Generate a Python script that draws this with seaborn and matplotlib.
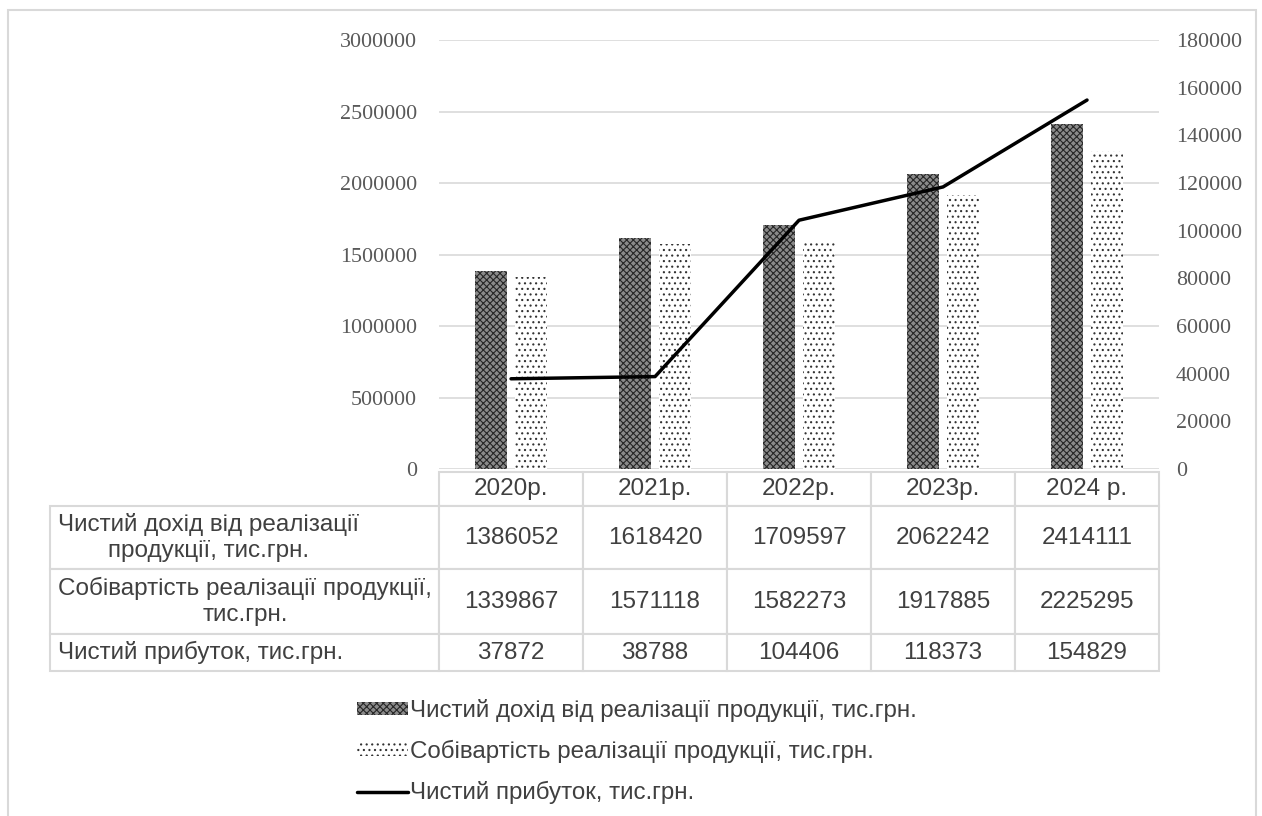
import numpy as np
import pandas as pd
import matplotlib
matplotlib.use('Agg')
import matplotlib.pyplot as plt
import seaborn as sns
from matplotlib.patches import Rectangle

years = ['2020р.', '2021р.', '2022р.', '2023р.', '2024 р.']
income = [1386052, 1618420, 1709597, 2062242, 2414111]
cost = [1339867, 1571118, 1582273, 1917885, 2225295]
profit = [37872, 38788, 104406, 118373, 154829]
s_income = 'Чистий дохід від реалізації продукції, тис.грн.'
s_cost = 'Собівартість реалізації продукції, тис.грн.'
s_profit = 'Чистий прибуток, тис.грн.'
row_labels = ['Чистий дохід від реалізації\nпродукції, тис.грн.',
              'Собівартість реалізації продукції,\nтис.грн.',
              'Чистий прибуток, тис.грн.']
left_ticks = np.arange(0, 3000001, 500000)
right_ticks = np.arange(0, 180001, 20000)

sns.set_theme(style='white')
plt.rcParams['font.family'] = ['Liberation Sans', 'DejaVu Sans']
plt.rcParams['hatch.linewidth'] = 0.8

fig = plt.figure(figsize=(12.62, 8.16), dpi=100)
ax = fig.add_axes([0.3479, 0.4252, 0.5705, 0.5257])

df = pd.DataFrame({'year': years * 2,
                   'value': income + cost,
                   'series': [s_income] * len(years) + [s_cost] * len(years)})
sns.barplot(data=df, x='year', y='value', hue='series', ax=ax,
            width=0.556, gap=0.2, palette=['#8a8a8a', 'white'],
            saturation=1, legend=False, linewidth=0)

for p in ax.containers[0]:
    p.set_hatch('xxxxx')
    p.set_edgecolor('#262626')
    p.set_linewidth(0)
for p in ax.containers[1]:
    p.set_hatch('...')
    p.set_edgecolor('#333333')
    p.set_linewidth(0)

ax.set_xlim(-0.5, len(years) - 0.5)
ax.set_ylim(0, 3000000)
ax.set_yticks(left_ticks)
ax.set_yticklabels([str(v) for v in left_ticks])
ax.set_xticks([])
ax.set_xlabel('')
ax.set_ylabel('')
ax.yaxis.grid(True, color='#d9d9d9', lw=1.2)
ax.set_axisbelow(True)
ax.tick_params(axis='y', length=0, pad=16, labelsize=15.8, labelcolor='#595959')
for lab in ax.get_yticklabels():
    lab.set_fontfamily('Liberation Serif')
for s in ax.spines.values():
    s.set_visible(False)

ax2 = ax.twinx()
sns.lineplot(x=np.arange(len(years)), y=profit, ax=ax2, color='black', lw=2.5)
ax2.set_ylim(0, 180000)
ax2.set_yticks(right_ticks)
ax2.set_yticklabels([str(v) for v in right_ticks])
ax2.tick_params(axis='y', length=0, pad=12, labelsize=15.8, labelcolor='#595959')
for lab in ax2.get_yticklabels():
    lab.set_fontfamily('Liberation Serif')
for s in ax2.spines.values():
    s.set_visible(False)
ax2.grid(False)
ax2.set_ylabel('')

# data table
cell_text = [[str(v) for v in income], [str(v) for v in cost], [str(v) for v in profit]]
tbl = ax.table(cellText=cell_text, rowLabels=row_labels, colLabels=years,
               cellLoc='center', rowLoc='left',
               bbox=[0, -0.4709, 1.0, 0.464])
tbl.auto_set_font_size(False)
tbl.set_fontsize(17.5)
heights = {0: 34, 1: 63, 2: 65, 3: 37}
for (r, c), cell in tbl.get_celld().items():
    cell.set_edgecolor('#d9d9d9')
    cell.set_linewidth(1.5)
    cell.get_text().set_color('#404040')
    cell.set_height(heights[r] / 429)
    cell.set_width((387 if c == -1 else 144) / 720)
    if c == -1:
        cell.PAD = 0.02
        cell.get_text().set_multialignment('center')

# legend
handles = [ax.containers[0][0], ax.containers[1][0], ax2.lines[0]]
leg = fig.legend(handles, [s_income, s_cost, s_profit], loc='upper left',
                 bbox_to_anchor=(345 / 1262, 1 - 687 / 816), frameon=False,
                 fontsize=17.4, handlelength=2.1, handleheight=0.45,
                 handletextpad=0.08, labelspacing=0.74, borderpad=0)
for t in leg.get_texts():
    t.set_color('#404040')

fig.add_artist(Rectangle((8 / 1262, -0.01), 1248 / 1262, (816 - 10) / 816 + 0.01,
                         transform=fig.transFigure, fill=False,
                         edgecolor='#d9d9d9', lw=1.5))

fig.savefig('out.png', dpi=100)
